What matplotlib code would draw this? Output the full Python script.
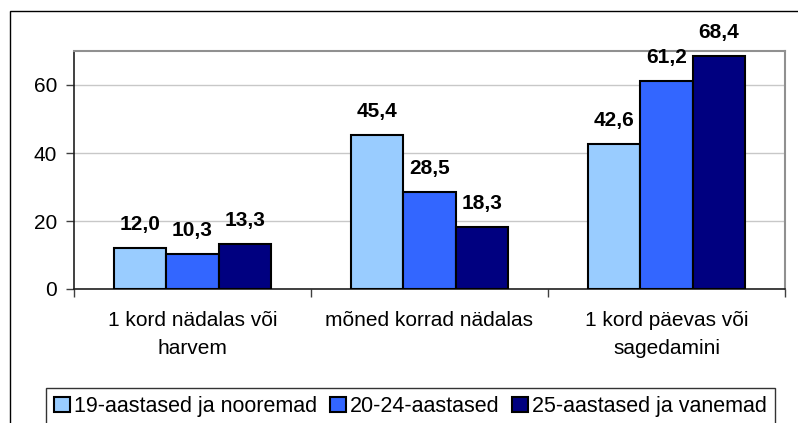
"""Sageduse tulpdiagramm vanuserühmade kaupa."""

import matplotlib

matplotlib.use("Agg")
import matplotlib.pyplot as plt
import numpy as np
from matplotlib.patches import Patch, Rectangle

categories = ["1 kord nädalas või\nharvem", "mõned korrad nädalas", "1 kord päevas või\nsagedamini"]
series_names = ["19-aastased ja nooremad", "20-24-aastased", "25-aastased ja vanemad"]
values_19 = [12.0, 45.4, 42.6]
values_20_24 = [10.3, 28.5, 61.2]
values_25 = [13.3, 18.3, 68.4]
colors = ["#99CCFF", "#3366FF", "#000080"]

plt.rcParams["font.family"] = ["Liberation Sans", "DejaVu Sans"]

W, H = 798, 423
fig = plt.figure(figsize=(W / 100, H / 100), dpi=100)

# outer chart frame (right/bottom edges fall outside the image)
fig.patches.append(Rectangle((10 / W, -0.1), 1.2, 1.1 - 11 / H, transform=fig.transFigure,
                             fill=False, edgecolor="#000000", linewidth=1.0))

ax = fig.add_axes([74 / W, (H - 289) / H, (785 - 74) / W, (289 - 51) / H])

x = np.arange(len(categories))
bw = 0.222
all_series = [values_19, values_20_24, values_25]
for i, (vals, col) in enumerate(zip(all_series, colors)):
    pos = x + (i - 1) * bw
    ax.bar(pos, vals, width=bw, color=col, edgecolor="black", linewidth=1.5, zorder=3)
    for px, v in zip(pos, vals):
        ax.annotate(f"{v:.1f}".replace(".", ","), (px, v), xytext=(0, 17),
                    textcoords="offset points", ha="center", va="center",
                    fontsize=15, fontweight="bold", zorder=4)

ax.set_xlim(-0.5, 2.5)
ax.set_ylim(0, 70)
ax.set_yticks([0, 20, 40, 60])
ax.yaxis.grid(True, color="#C8C8C8", linewidth=1.0, zorder=0)
ax.set_axisbelow(True)

ax.set_xticks([-0.5, 0.5, 1.5, 2.5])
ax.set_xticklabels([])
ax.set_xticks(x, minor=True)
ax.set_xticklabels(categories, minor=True, fontsize=15, linespacing=1.6)
ax.tick_params(axis="x", which="major", length=6, width=1, color="#404040")
ax.tick_params(axis="x", which="minor", length=0, pad=16)
ax.tick_params(axis="y", length=6, width=1, labelsize=15, pad=6, color="#404040")

for side in ["top", "right"]:
    ax.spines[side].set_color("#909090")
    ax.spines[side].set_linewidth(1.5)
for side in ["left", "bottom"]:
    ax.spines[side].set_color("#202020")
    ax.spines[side].set_linewidth(1.2)

handles = [Patch(facecolor=c, edgecolor="black", linewidth=1.5) for c in colors]
leg = fig.legend(handles, series_names, loc="upper left", bbox_to_anchor=(46 / W, 1 - 388 / H),
                 ncol=3, fontsize=15.5, frameon=True, fancybox=False, edgecolor="black",
                 handlelength=0.72, handleheight=0.72, handletextpad=0.2, columnspacing=0.6,
                 borderpad=0.38, borderaxespad=0)
leg.get_frame().set_linewidth(1.0)

fig.savefig("out.png", dpi=100)
plt.close(fig)
